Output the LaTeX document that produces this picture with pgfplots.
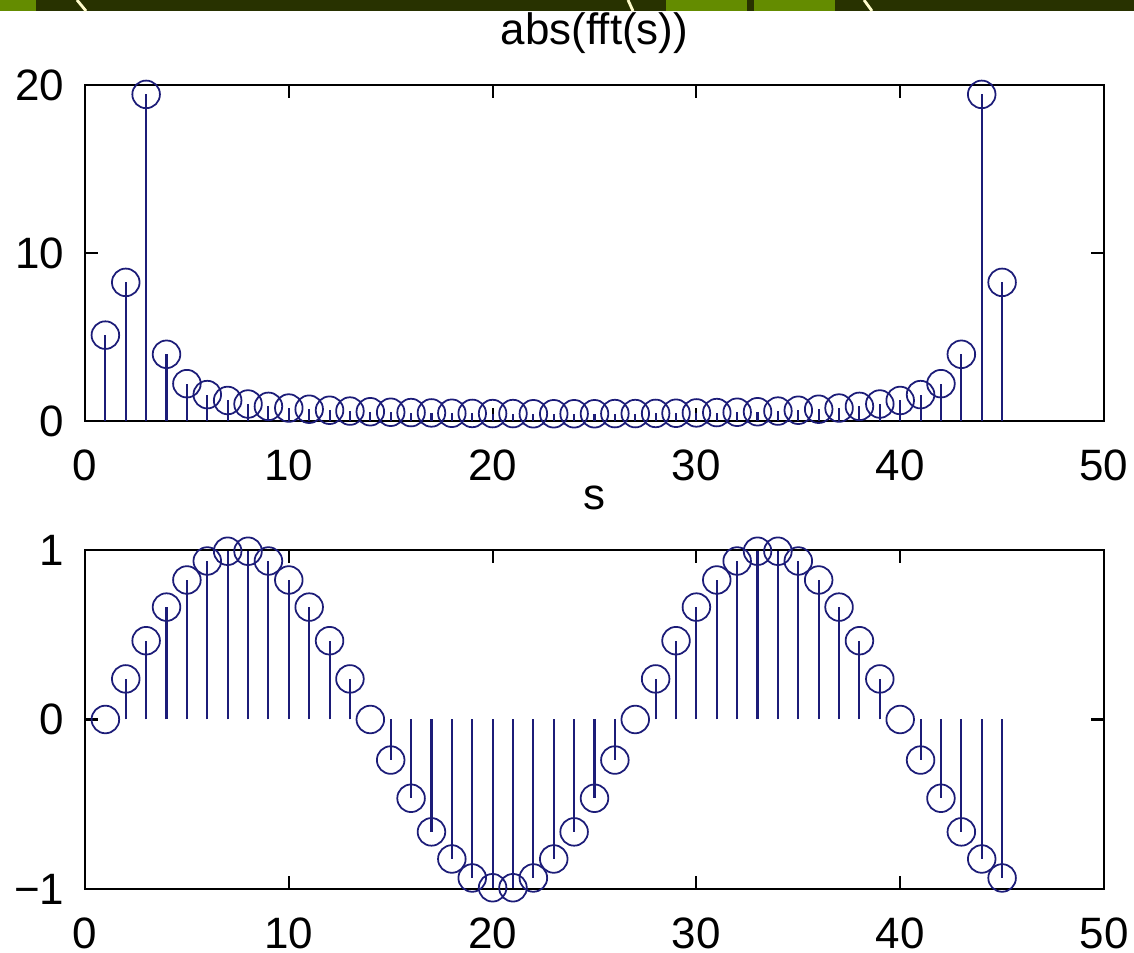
\documentclass[border=0pt]{standalone}
\usepackage{fontspec}
\setmainfont{Liberation Sans}
\usepackage{pgfplots}
\pgfplotsset{compat=1.18}
\definecolor{stemblue}{RGB}{28,28,120}
\definecolor{banddark}{RGB}{40,50,0}
\definecolor{bandlight}{RGB}{100,140,0}
\newcommand\plotfont{\fontsize{12.5}{14}\selectfont}
\pgfplotsset{
  matlab/.style={
    scale only axis,
    anchor=south west,
    width=10.19cm,
    xmin=0, xmax=50,
    xtick={0,10,20,30,40,50},
    tick align=inside,
    major tick length=0.13cm,
    axis line style={line width=0.6pt, black},
    every tick/.style={black, line width=0.6pt},
    /pgf/number format/assume math mode=true,
    tick label style={font=\plotfont, inner sep=0pt},
    xticklabel style={anchor=north, yshift=-0.28cm},
    yticklabel style={anchor=east, xshift=-0.20cm},
    every axis title shift=0pt,
    title style={at={(0.5,1)}, anchor=base, yshift=0.40cm, inner sep=0pt, font=\plotfont},
    clip=false,
  },
  stemstyle/.style={
    ycomb, color=stemblue, line width=0.6pt,
    mark=o, mark size=0.138cm,
    mark options={solid, line width=0.5pt, stemblue},
  }
}
\begin{document}
\begin{tikzpicture}
\useasboundingbox (0,0) rectangle (11.34,9.53);
% slide background band at the top
\fill[banddark] (0,9.42) rectangle (11.34,9.53);
\fill[bandlight] (0,9.42) rectangle (0.36,9.53);
\fill[bandlight] (6.66,9.42) rectangle (7.47,9.53);
\fill[bandlight] (7.54,9.42) rectangle (8.35,9.53);
\draw[white!80!yellow, line width=0.8pt] (0.77,9.53) -- (0.86,9.42);
\draw[white!80!yellow, line width=0.8pt] (6.33,9.42) -- (6.28,9.53);
\draw[white!80!yellow, line width=0.8pt] (8.64,9.53) -- (8.72,9.42);

\begin{axis}[matlab,
  at={(0.85cm,5.32cm)},
  height=3.36cm,
  ymin=0, ymax=20,
  ytick={0,10,20},
  title={abs(fft(s))},
]
\addplot[stemstyle] coordinates {
(1,5.11) (2,8.25) (3,19.44) (4,3.97) (5,2.22) (6,1.57) (7,1.22) (8,1.01)
(9,0.87) (10,0.77) (11,0.70) (12,0.64) (13,0.59) (14,0.55) (15,0.52)
(16,0.50) (17,0.48) (18,0.46) (19,0.45) (20,0.44) (21,0.44) (22,0.43)
(23,0.43) (24,0.43) (25,0.43) (26,0.44) (27,0.44) (28,0.45) (29,0.46)
(30,0.48) (31,0.50) (32,0.52) (33,0.55) (34,0.59) (35,0.64) (36,0.70)
(37,0.77) (38,0.87) (39,1.01) (40,1.22) (41,1.57) (42,2.22) (43,3.97)
(44,19.44) (45,8.25)
};
\end{axis}

\begin{axis}[matlab,
  at={(0.85cm,0.64cm)},
  height=3.39cm,
  ymin=-1, ymax=1,
  ytick={-1,0,1},
  yticklabels={−1,0,1},
  title={s},
]
\addplot[stemstyle] coordinates {
(1,0) (2,0.2393) (3,0.4647) (4,0.6631) (5,0.8230) (6,0.9350) (7,0.9927)
(8,0.9927) (9,0.9350) (10,0.8230) (11,0.6631) (12,0.4647) (13,0.2393)
(14,0) (15,-0.2393) (16,-0.4647) (17,-0.6631) (18,-0.8230) (19,-0.9350)
(20,-0.9927) (21,-0.9927) (22,-0.9350) (23,-0.8230) (24,-0.6631)
(25,-0.4647) (26,-0.2393) (27,0) (28,0.2393) (29,0.4647) (30,0.6631)
(31,0.8230) (32,0.9350) (33,0.9927) (34,0.9927) (35,0.9350) (36,0.8230)
(37,0.6631) (38,0.4647) (39,0.2393) (40,0) (41,-0.2393) (42,-0.4647)
(43,-0.6631) (44,-0.8230) (45,-0.9350)
};
\end{axis}
\end{tikzpicture}
\end{document}
